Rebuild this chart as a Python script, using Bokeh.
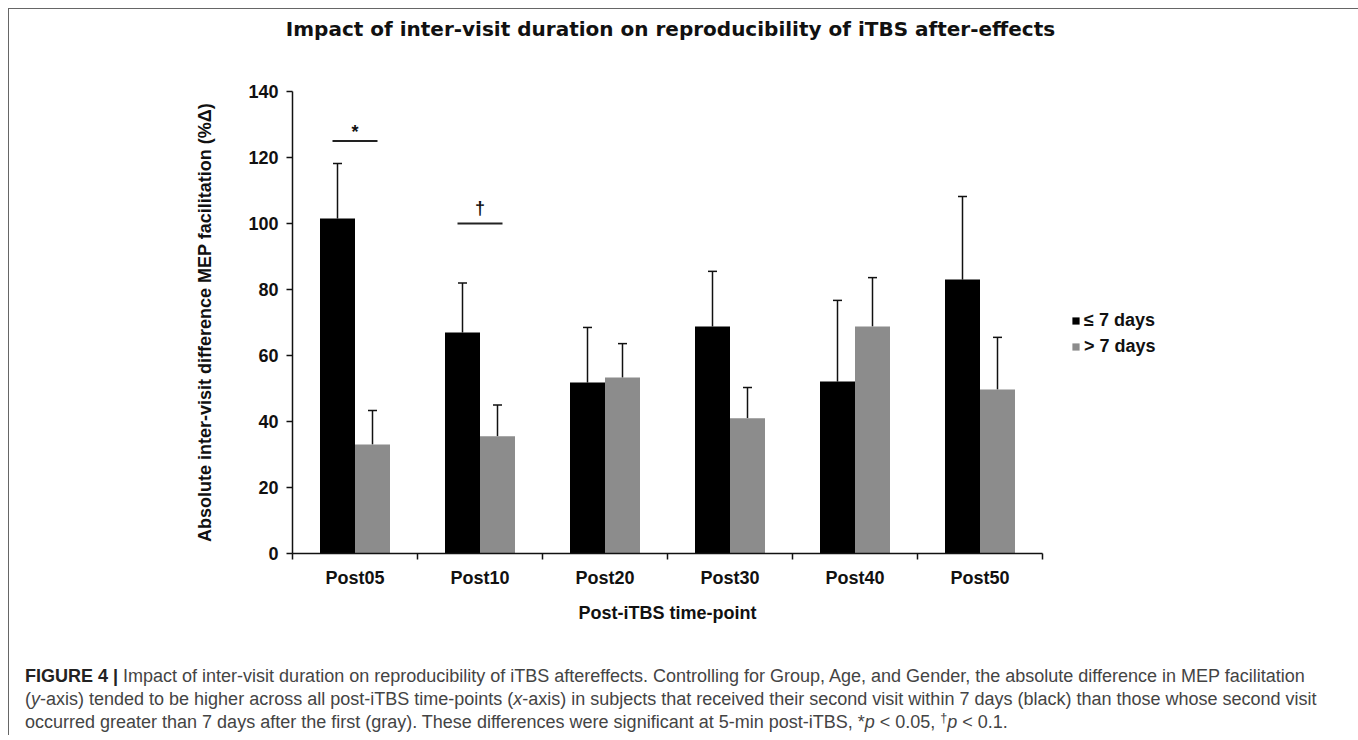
from bokeh.plotting import figure
from bokeh.models import (ColumnDataSource, Range1d, FixedTicker, Whisker, TeeHead,
                          Legend, LegendItem, Div)
from bokeh.layouts import column
from bokeh.embed import file_html
from bokeh.resources import INLINE

# ---------------- data ----------------
categories = ["Post05", "Post10", "Post20", "Post30", "Post40", "Post50"]
within7_mean = [101.5, 67.0, 51.8, 68.8, 52.1, 83.0]
within7_err = [16.7, 15.0, 16.7, 16.7, 24.6, 25.2]
over7_mean = [33.0, 35.5, 53.3, 41.0, 68.8, 49.7]
over7_err = [10.3, 9.5, 10.3, 9.3, 14.8, 15.8]
y_ticks = [0, 20, 40, 60, 80, 100, 120, 140]
sig_categories = ["Post05", "Post10"]
sig_levels = [125, 100]
sig_marks = ["*", "\u2020"]
series_labels = ["\u2264 7 days", "> 7 days"]

title_text = "Impact of inter-visit duration on reproducibility of iTBS after-effects"
y_label = "Absolute inter-visit difference MEP facilitation (%\u0394)"
x_label = "Post-iTBS time-point"

FONT = "Liberation Sans"
BAR_W = 0.28
W = 1344

centers = [i + 0.5 for i in range(len(categories))]
src_a = ColumnDataSource(dict(x=[c - BAR_W / 2 for c in centers], top=within7_mean,
                              upper=[m + e for m, e in zip(within7_mean, within7_err)]))
src_b = ColumnDataSource(dict(x=[c + BAR_W / 2 for c in centers], top=over7_mean,
                              upper=[m + e for m, e in zip(over7_mean, over7_err)]))

title_div = Div(text=title_text, width=W, height=40, margin=0,
                styles={"font-family": "DejaVu Sans", "font-size": "20px", "font-weight": "bold",
                        "color": "#111111", "line-height": "40px", "text-align": "center",
                        "padding-right": "21px", "box-sizing": "border-box",
                        "white-space": "nowrap", "width": "%dpx" % W})

p = figure(frame_width=750, frame_height=462,
           min_border_left=283, min_border_right=W - 283 - 750, min_border_top=42,
           min_border_bottom=84,
           x_range=Range1d(0, len(categories)), y_range=Range1d(0, 140),
           output_backend="svg", toolbar_location=None, tools="")
p.title.visible = False
p.outline_line_color = None
p.xgrid.visible = False
p.ygrid.visible = False
p.background_fill_color = "white"
p.border_fill_color = "white"

for src in (src_a, src_b):
    w = Whisker(source=src, base="x", lower="top", upper="upper", dimension="height",
                line_color="#111111", line_width=1.5,
                upper_head=TeeHead(size=9, line_color="#111111", line_width=1.5),
                lower_head=None)
    p.add_layout(w)

r_a = p.vbar(x="x", top="top", width=BAR_W, source=src_a, fill_color="#000000",
             line_color=None)
r_b = p.vbar(x="x", top="top", width=BAR_W, source=src_b, fill_color="#8c8c8c",
             line_color=None)

# significance markers
sig_x = [centers[categories.index(c)] for c in sig_categories]
p.segment(x0=[x - 0.18 for x in sig_x], x1=[x + 0.18 for x in sig_x],
          y0=sig_levels, y1=sig_levels, line_color="#222222", line_width=2)
mark_offset = {"*": 1, "\u2020": -6}
for sx, sy, mk in zip(sig_x, sig_levels, sig_marks):
    p.text(x=[sx], y=[sy], text=[mk], text_align="center", text_baseline="bottom",
           y_offset=mark_offset[mk], text_font_size="18px", text_font_style="bold",
           text_color="#111111")

# axes
xa = p.xaxis[0]
xa.ticker = FixedTicker(ticks=centers, minor_ticks=list(range(len(categories) + 1)))
xa.major_label_overrides = {c: lab for c, lab in zip(centers, categories)}
xa.major_tick_line_color = None
xa.major_tick_in = 0
xa.major_tick_out = 0
xa.minor_tick_in = 0
xa.minor_tick_out = 6
xa.minor_tick_line_color = "#111111"
xa.minor_tick_line_width = 1.5
xa.major_label_standoff = 8
xa.axis_label = x_label
xa.axis_label_standoff = 12

ya = p.yaxis[0]
ya.ticker = FixedTicker(ticks=y_ticks, minor_ticks=[])
ya.major_tick_in = 0
ya.major_tick_out = 6
ya.major_tick_line_width = 1.5
ya.major_tick_line_color = "#111111"
ya.major_label_standoff = 8
ya.axis_label = y_label
ya.axis_label_standoff = 30

for ax in (xa, ya):
    ax.axis_line_color = "#111111"
    ax.axis_line_width = 1.5
    ax.major_label_text_font = FONT
    ax.major_label_text_font_size = "18px"
    ax.major_label_text_font_style = "bold"
    ax.major_label_text_color = "#111111"
    ax.axis_label_text_font = FONT
    ax.axis_label_text_font_size = "18px"
    ax.axis_label_text_font_style = "bold"
    ax.axis_label_text_color = "#111111"

legend = Legend(items=[LegendItem(label=series_labels[0], renderers=[r_a]),
                       LegendItem(label=series_labels[1], renderers=[r_b])],
                location=(29, 196), padding=0, margin=0, spacing=5,
                glyph_width=9, glyph_height=9, label_standoff=4, label_height=20,
                border_line_color=None, background_fill_alpha=0)
legend.label_text_font = FONT
legend.label_text_font_size = "18px"
legend.label_text_font_style = "bold"
legend.label_text_color = "#111111"
p.add_layout(legend, "right")

caption_html = (
    "<b style='font-weight:bold;color:#222'>FIGURE 4 |</b> Impact of inter-visit duration on reproducibility of iTBS aftereffects. "
    "Controlling for Group, Age, and Gender, the absolute difference in MEP facilitation<br>"
    "(<i>y</i>-axis) tended to be higher across all post-iTBS time-points (<i>x</i>-axis) in subjects that "
    "received their second visit within 7 days (black) than those whose second visit<br>"
    "occurred greater than 7 days after the first (gray). These differences were significant at "
    "5-min post-iTBS, *<i>p</i> &lt; 0.05, "
    "<sup style='line-height:0;font-size:0.7em;vertical-align:0.45em'>\u2020</sup><i>p</i> &lt; 0.1."
)
cap = Div(text=caption_html, width=W, height=98, margin=0,
          styles={"font-family": FONT, "font-size": "18px", "color": "#444444",
                  "line-height": "23px", "padding-left": "16px", "padding-top": "28px",
                  "white-space": "nowrap", "box-sizing": "border-box"})

layout = column(title_div, p, cap, spacing=0,
                styles={"border-top": "1px solid #666", "border-left": "1px solid #666",
                        "border-right": "1px solid #666", "background": "white",
                        "margin-left": "8px", "margin-top": "8px"})

open("out.html", "w").write(file_html(layout, INLINE))
